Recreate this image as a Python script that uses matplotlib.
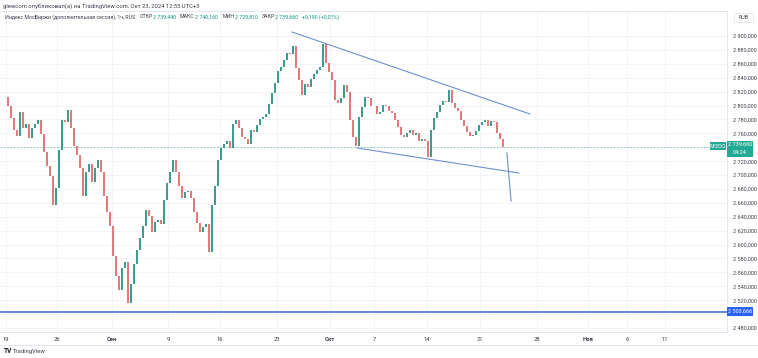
import matplotlib
matplotlib.use("Agg")
import matplotlib.pyplot as plt
from matplotlib.patches import Rectangle
import numpy as np

# hourly closes (one value every ~3 px)
closes = [
    2812, 2800, 2782, 2765, 2756, 2791, 2768, 2773, 2753, 2768,
    2773, 2779, 2759, 2733, 2713, 2699, 2657, 2681, 2736, 2779,
    2776, 2794, 2768, 2742, 2729, 2710, 2670, 2704, 2716, 2690,
    2710, 2722, 2704, 2670, 2647, 2627, 2584, 2555, 2535, 2566,
    2575, 2516, 2543, 2572, 2592, 2609, 2627, 2650, 2641, 2618,
    2632, 2635, 2630, 2664, 2689, 2704, 2722, 2704, 2684, 2667,
    2676, 2677, 2667, 2647, 2631, 2618, 2625, 2630, 2590, 2657,
    2684, 2722, 2739, 2745, 2749, 2739, 2773, 2779, 2768, 2755,
    2752, 2745, 2765, 2762, 2772, 2781, 2784, 2788, 2802, 2818,
    2832, 2850, 2855, 2866, 2876, 2874, 2886, 2854, 2837, 2815,
    2831, 2827, 2838, 2845, 2851, 2855, 2888, 2861, 2848, 2837,
    2808, 2804, 2811, 2830, 2819, 2779, 2755, 2742, 2783, 2798,
    2812, 2811, 2799, 2799, 2788, 2791, 2801, 2799, 2792, 2789,
    2779, 2769, 2758, 2755, 2760, 2765, 2758, 2760, 2749, 2752,
    2749, 2726, 2765, 2782, 2791, 2801, 2806, 2805, 2823, 2804,
    2796, 2792, 2779, 2770, 2762, 2756, 2758, 2763, 2772, 2776,
    2779, 2770, 2778, 2776, 2760, 2752, 2739.64,
]
last_price = 2739.66
level_price = 2503.666

# drawings (bar index, price)
upper_line = ([95.7, 175.0], [2905.8, 2787.8])
lower_line = ([117.3, 171.3], [2738.9, 2702.9])
arrow_line = ([167.3, 168.7], [2731.7, 2662.7])

date_labels = ["19", "26", "Сен", "9", "16", "23", "Окт", "7", "14", "21", "28", "Ноя", "6", "11"]
date_bars = [0.3, 17.3, 35.7, 54.3, 71.7, 90.7, 108.3, 123.0, 140.7, 158.3, 177.3, 194.3, 207.3, 220.0]
month_labels = ["Сен", "Окт", "Ноя"]

price_ticks = list(range(2480, 2901, 20))

header = "glewcom опубликовал(а) на TradingView.com, Окт 23, 2024 12:55 UTC+3"
title = "Индекс МосБиржи (дополнительная сессия), 1ч, RUS"
ohlc = [("ОТКР", "2 739,440"), ("МАКС", "2 740,160"), ("МИН", "2 729,810"), ("ЗАКР", "2 739,660")]
change = "+0,190 (+0,01%)"

plt.rcParams['font.family'] = ['Roboto', 'DejaVu Sans']

W, H = 758, 358
fig = plt.figure(figsize=(W / 100, H / 100), dpi=100)
fig.patch.set_facecolor("white")

pane_right, pane_top, pane_bot = 727, 11, 332
ax = fig.add_axes([0, 1 - pane_bot / H, pane_right / W, (pane_bot - pane_top) / H])

green, red = "#3a9d90", "#e57878"
x = np.arange(len(closes))
opens = [closes[0]] + closes[:-1]
lo = np.minimum(opens, closes)
hi = np.maximum(opens, closes)
cols = [green if c >= o else red for o, c in zip(opens, closes)]
ax.bar(x, np.maximum(hi - lo, 0.8), bottom=lo, width=0.38, color=cols, linewidth=0, zorder=3)

ax.axhline(last_price, color="#26a69a", lw=0.6, ls=(0, (2, 2)), alpha=0.6, zorder=2)
ax.axhline(level_price, color="#4d6fd8", lw=1.2, zorder=4)
for ln in (upper_line, lower_line, arrow_line):
    ax.plot(ln[0], ln[1], color="#6f8fcc", lw=0.8, zorder=4)

ax.set_xlim(-1.67, 240.67)
ax.set_ylim(2474.2, 2936)

ax.set_xticks(date_bars)
ax.set_xticklabels(date_labels)
for t in ax.get_xticklabels():
    t.set_fontweight("bold" if t.get_text() in month_labels else "normal")
ax.set_yticks(price_ticks)
ax.set_yticklabels(["" if p in (2740, 2500) else f"{p // 1000} {p % 1000:03d},000" for p in price_ticks])
ax.yaxis.tick_right()
ax.tick_params(axis="both", length=0, labelcolor="#3b3f4a")
ax.tick_params(axis="y", pad=4, labelsize=4.0)
ax.tick_params(axis="x", pad=3.5, labelsize=4.2)
ax.grid(True, color="#f0f3fa", lw=0.6, zorder=0)
ax.set_axisbelow(True)
ax.spines["left"].set_visible(False)
for s in ("top", "bottom", "right"):
    ax.spines[s].set_color("#e0e3eb")
    ax.spines[s].set_linewidth(0.6)


def fx(px):
    return px / W


def fy(py):
    return 1 - py / H


# bottom border of the time scale
fig.add_artist(plt.Line2D([0, 1], [fy(345), fy(345)], color="#e0e3eb", lw=0.6))

fig.text(fx(3), fy(6), header, fontsize=4.2, color="#3b3f4a", va="center")

# legend row
renderer = fig.canvas.get_renderer()
fs = 3.8
cx = 5
t = fig.text(fx(cx), fy(17), title, fontsize=fs, color="#3b3f4a", va="center")
cx = t.get_window_extent(renderer).x1 + 4
for name, val in ohlc:
    t = fig.text(fx(cx), fy(17), name, fontsize=fs, color="#3b3f4a", va="center")
    cx = t.get_window_extent(renderer).x1 + 0.5
    t = fig.text(fx(cx), fy(17), val, fontsize=fs, color="#089981", va="center")
    cx = t.get_window_extent(renderer).x1 + 4
fig.text(fx(cx), fy(17), change, fontsize=fs, color="#089981", va="center")

# RUB box
fig.add_artist(Rectangle((fx(734), fy(22)), 19 / W, 9 / H, facecolor="white",
                         edgecolor="#e0e3eb", lw=0.5))
fig.text(fx(743.5), fy(17.5), "RUB", fontsize=3.8, color="#3b3f4a", ha="center", va="center")

# last price tags
tag = "#22ab94"
fig.add_artist(Rectangle((fx(727), fy(157)), 26 / W, 16 / H, facecolor=tag, edgecolor="none"))
fig.text(fx(740), fy(144.5), "2 739,660", fontsize=4.0, color="white", ha="center", va="center")
fig.text(fx(740), fy(152.5), "04:24", fontsize=4.0, color="white", ha="center", va="center")
fig.add_artist(Rectangle((fx(710), fy(150)), 16 / W, 8 / H, facecolor=tag, edgecolor="none"))
fig.text(fx(718), fy(146), "IMOEX2", fontsize=3.3, color="white", ha="center", va="center")

# level tag
fig.add_artist(Rectangle((fx(727), fy(316)), 26 / W, 9 / H, facecolor="#2962ff", edgecolor="none"))
fig.text(fx(740), fy(311.5), "2 503,666", fontsize=4.0, color="white", ha="center", va="center")

# logo
fig.text(fx(4), fy(351), "TV", fontsize=4.8, fontweight="bold", color="#131722", va="center")
fig.text(fx(13), fy(351), "TradingView", fontsize=4.2, color="#3b3f4a", va="center")

fig.savefig("out.png", dpi=100, facecolor="white")
